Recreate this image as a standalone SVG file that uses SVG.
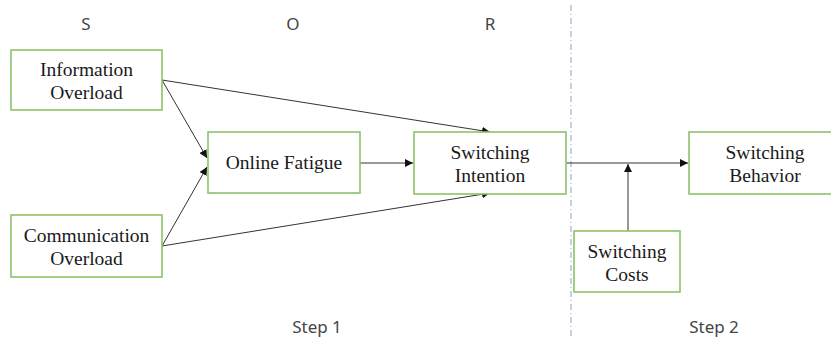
<svg xmlns="http://www.w3.org/2000/svg" width="831" height="338" viewBox="0 0 831 338">
<style>
.box{fill:#fff;stroke:#8dc26b;stroke-width:1.6}
.t{font-family:"Liberation Serif",serif;font-size:19.5px;fill:#1a1a1a;text-anchor:middle}
.h{font-family:"Noto Sans","DejaVu Sans",sans-serif;font-size:17px;fill:#444;text-anchor:middle}
.c{stroke:#333;stroke-width:1;fill:none}
</style>
<defs>
<marker id="a" viewBox="0 0 10 10" refX="10" refY="5" markerWidth="8" markerHeight="8" markerUnits="userSpaceOnUse" orient="auto">
<path d="M0,0 L10,5 L0,10 Z" fill="#111"/>
</marker>
</defs>
<rect width="831" height="338" fill="#fff"/>
<line x1="571" y1="5" x2="571" y2="338" stroke="#8aa0c8" stroke-width="1" stroke-dasharray="6,3,1,3"/>
<text class="h" x="86" y="30">S</text>
<text class="h" x="293" y="30">O</text>
<text class="h" x="490" y="30">R</text>
<text class="h" x="317" y="333">Step 1</text>
<text class="h" x="714" y="333">Step 2</text>
<g id="connectors">
<line class="c" x1="162" y1="80" x2="207" y2="158" marker-end="url(#a)"/>
<line class="c" x1="162" y1="80" x2="490" y2="132" marker-end="url(#a)"/>
<line class="c" x1="162" y1="246" x2="207" y2="167" marker-end="url(#a)"/>
<line class="c" x1="162" y1="246" x2="490" y2="193" marker-end="url(#a)"/>
<line class="c" x1="360" y1="163" x2="413" y2="163" marker-end="url(#a)"/>
<line class="c" x1="566" y1="163" x2="688" y2="163" marker-end="url(#a)"/>
<line class="c" x1="628" y1="231" x2="628" y2="164" marker-end="url(#a)"/>
</g>
<g id="info">
<rect class="box" x="11" y="50" width="151" height="60"/>
<text class="t" x="86.5" y="76">Information</text>
<text class="t" x="86.5" y="99">Overload</text>
</g>
<g id="comm">
<rect class="box" x="11" y="215" width="151" height="62"/>
<text class="t" x="86.5" y="242">Communication</text>
<text class="t" x="86.5" y="265">Overload</text>
</g>
<g id="fatigue">
<rect class="box" x="208" y="132" width="152" height="61"/>
<text class="t" x="284" y="169">Online Fatigue</text>
</g>
<g id="intention">
<rect class="box" x="414" y="132" width="152" height="62"/>
<text class="t" x="490" y="159">Switching</text>
<text class="t" x="490" y="182">Intention</text>
</g>
<g id="behavior">
<rect class="box" x="689" y="132" width="150" height="62"/>
<text class="t" x="765" y="159">Switching</text>
<text class="t" x="765" y="182">Behavior</text>
</g>
<g id="costs">
<rect class="box" x="574" y="231" width="106" height="61"/>
<text class="t" x="627" y="258">Switching</text>
<text class="t" x="627" y="281">Costs</text>
</g>
</svg>
